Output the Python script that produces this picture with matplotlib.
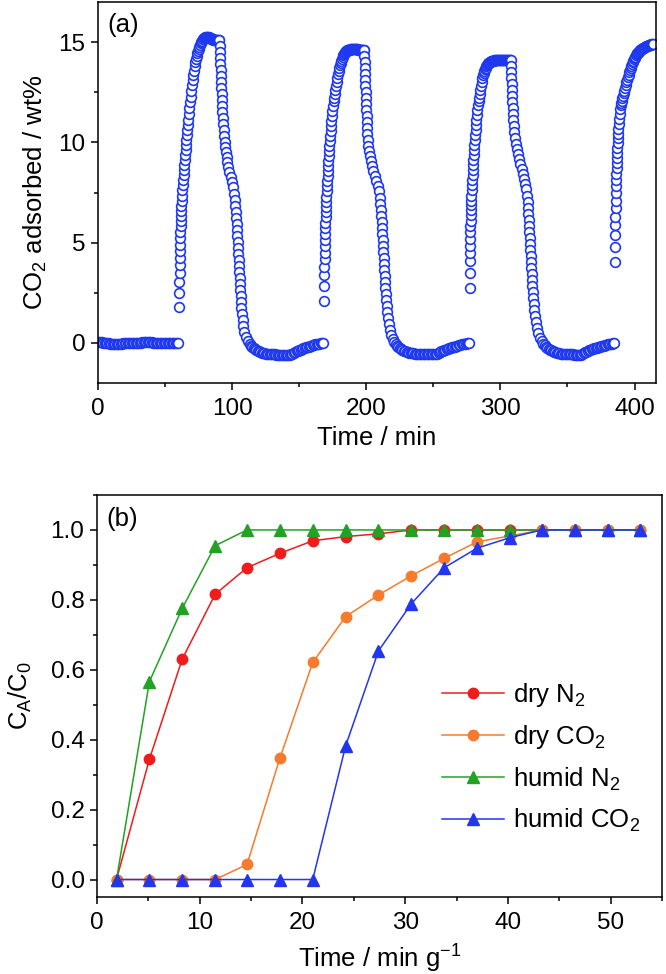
import numpy as np
import matplotlib
matplotlib.use("Agg")
import matplotlib.pyplot as plt
from matplotlib.ticker import MultipleLocator

plt.rcParams['font.family'] = ['Liberation Sans', 'DejaVu Sans']
plt.rcParams['mathtext.fontset'] = 'custom'
plt.rcParams['mathtext.rm'] = 'Liberation Sans'
plt.rcParams['mathtext.it'] = 'Liberation Sans:italic'
plt.rcParams['mathtext.default'] = 'regular'

###############################################################################
# DATA - (a) CO2 uptake cycles
# explicit (time [min], wt%) pairs for the fast parts,
# evenly logged readings (start, step, values) for the slow parts
###############################################################################

def logged(t0, dt, vals):
    return [(t0 + i * dt, v) for i, v in enumerate(vals)]

baseline_v = [0.05, 0.04, 0.03, 0.02, 0.01, 0.0, -0.01, -0.02, -0.03, -0.04, -0.04,
              -0.05, -0.05, -0.05, -0.05, -0.05, -0.05, -0.04, -0.04, -0.03, -0.03,
              -0.02, -0.02, -0.01, -0.01, 0.0, 0.0, 0.0, 0.0, 0.01, 0.01, 0.01, 0.01,
              0.02, 0.02, 0.02, 0.02, 0.02, 0.02, 0.02, 0.02, 0.01, 0.01, 0.01, 0.01,
              0.0, 0.0, 0.0, 0.0, 0.0, 0.0, 0.0, 0.0, 0.0, 0.0, 0.0, 0.0, 0.0, 0.0,
              0.0, 0.0]

# cycle 1
c1_rise = [(60.5, 1.8), (60.6, 2.5), (60.7, 3.05), (60.8, 3.5), (60.9, 3.9), (61.0, 4.25),
           (61.1, 4.6), (61.2, 4.9), (61.3, 5.25), (61.45, 5.55), (61.6, 5.85), (61.75, 6.1),
           (61.9, 6.35), (62.05, 6.6), (62.2, 6.85), (62.4, 7.1), (62.65, 7.35), (62.9, 7.6),
           (63.2, 7.85), (63.5, 8.1), (63.8, 8.35), (64.1, 8.6), (64.4, 8.85), (64.7, 9.1),
           (65.0, 9.35), (65.3, 9.6), (65.6, 9.85), (65.9, 10.1), (66.2, 10.35), (66.5, 10.6),
           (66.9, 10.85), (67.3, 11.1), (67.7, 11.4), (68.1, 11.7), (68.6, 12.0)]
c1_top_v = [12.25, 12.55, 12.85, 13.1, 13.35, 13.57, 13.8, 14.0, 14.15, 14.3, 14.45, 14.57,
            14.68, 14.78, 14.87, 14.95, 15.02, 15.08, 15.13, 15.17, 15.2, 15.22, 15.24,
            15.25, 15.25, 15.25, 15.25, 15.24, 15.22, 15.2, 15.18, 15.16, 15.15, 15.13,
            15.12, 15.11, 15.1, 15.1, 15.1, 15.1, 15.1, 15.1, 15.1]
c1_fall = [(90.4, 15.1), (90.6, 14.8), (90.8, 14.5), (91.0, 14.2), (91.2, 13.9), (91.4, 13.6),
           (91.6, 13.3), (91.8, 13.0), (92.0, 12.7), (92.2, 12.4), (92.4, 12.1), (92.6, 11.8),
           (92.8, 11.5), (93.1, 11.2), (93.4, 10.9), (93.7, 10.6), (94.0, 10.3), (94.4, 10.0),
           (94.8, 9.75), (95.3, 9.5), (95.9, 9.25), (96.5, 9.0), (97.2, 8.75), (98.0, 8.5),
           (99.0, 8.25), (100.0, 8.0), (100.8, 7.75), (101.5, 7.45), (102.0, 7.15),
           (102.4, 6.85), (102.7, 6.55), (103.0, 6.25), (103.3, 5.95), (103.5, 5.65),
           (103.75, 5.35), (104.0, 5.05), (104.25, 4.75), (104.5, 4.45), (104.75, 4.15),
           (105.0, 3.85), (105.25, 3.55), (105.5, 3.25), (105.75, 2.95), (106.0, 2.65),
           (106.3, 2.35), (106.6, 2.05), (106.9, 1.75), (107.3, 1.45), (107.8, 1.15),
           (108.4, 0.85), (109.2, 0.55), (110.2, 0.3), (111.5, 0.1)]
c1_low_v = [-0.05, -0.13, -0.2, -0.26, -0.31, -0.35, -0.39, -0.42, -0.45, -0.48, -0.5,
            -0.52, -0.53, -0.54, -0.55, -0.56, -0.56, -0.57, -0.57, -0.57, -0.58, -0.58,
            -0.58, -0.58, -0.58, -0.59, -0.59, -0.59, -0.59, -0.6, -0.6, -0.57, -0.53,
            -0.49, -0.45, -0.42, -0.39, -0.36, -0.33, -0.3, -0.27, -0.25, -0.22, -0.2,
            -0.18, -0.16, -0.14, -0.12, -0.1, -0.08, -0.07, -0.05, -0.04, -0.02, -0.01]

# cycle 2
c2_rise = [(168.5, 2.07), (168.6, 2.85), (168.7, 3.4), (168.8, 3.8), (168.9, 4.2),
           (169.0, 4.5), (169.1, 4.85), (169.2, 5.15), (169.3, 5.45), (169.4, 5.75),
           (169.5, 6.0), (169.65, 6.3), (169.8, 6.55), (169.95, 6.8), (170.1, 7.05),
           (170.3, 7.3), (170.5, 7.55), (170.7, 7.8), (170.9, 8.05), (171.1, 8.3),
           (171.3, 8.55), (171.5, 8.8), (171.7, 9.05), (171.95, 9.3), (172.2, 9.55),
           (172.5, 9.8), (172.8, 10.05), (173.1, 10.3), (173.4, 10.55), (173.7, 10.8),
           (174.0, 11.05), (174.4, 11.3), (174.8, 11.55), (175.2, 11.8), (175.7, 12.05)]
c2_top_v = [12.2, 12.4, 12.6, 12.8, 13.0, 13.2, 13.4, 13.55, 13.7, 13.85, 13.97, 14.08,
            14.18, 14.27, 14.35, 14.41, 14.46, 14.5, 14.54, 14.57, 14.59, 14.61, 14.62,
            14.63, 14.64, 14.65, 14.65, 14.65, 14.65, 14.65, 14.65, 14.65, 14.65, 14.65,
            14.65, 14.64, 14.63, 14.62, 14.62, 14.61, 14.6, 14.6, 14.6, 14.6, 14.6]
c2_fall = [(198.5, 14.6), (198.65, 14.3), (198.8, 14.0), (198.95, 13.7), (199.1, 13.4),
           (199.25, 13.1), (199.4, 12.8), (199.55, 12.5), (199.7, 12.2), (199.85, 11.9),
           (200.0, 11.6), (200.2, 11.3), (200.4, 11.0), (200.65, 10.7), (200.9, 10.4),
           (201.2, 10.1), (201.6, 9.8), (202.1, 9.55), (202.7, 9.3), (203.4, 9.05),
           (204.3, 8.8), (205.3, 8.55), (206.4, 8.3), (207.5, 8.05), (208.5, 7.8),
           (209.3, 7.55), (209.9, 7.25), (210.4, 6.95), (210.8, 6.65), (211.1, 6.35),
           (211.4, 6.05), (211.7, 5.75), (211.95, 5.45), (212.2, 5.15), (212.45, 4.85),
           (212.7, 4.55), (212.95, 4.25), (213.2, 3.95), (213.45, 3.65), (213.7, 3.35),
           (213.95, 3.05), (214.2, 2.75), (214.5, 2.45), (214.8, 2.15), (215.1, 1.85),
           (215.5, 1.55), (216.0, 1.25), (216.6, 0.95), (217.4, 0.65), (218.4, 0.4),
           (219.6, 0.2), (221.0, 0.03)]
c2_low_v = [-0.08, -0.15, -0.2, -0.25, -0.3, -0.34, -0.38, -0.41, -0.44, -0.46, -0.48,
            -0.5, -0.51, -0.52, -0.53, -0.54, -0.54, -0.55, -0.55, -0.56, -0.56, -0.56,
            -0.56, -0.57, -0.57, -0.57, -0.57, -0.57, -0.57, -0.57, -0.57, -0.54, -0.5,
            -0.46, -0.42, -0.39, -0.36, -0.33, -0.31, -0.28, -0.26, -0.24, -0.22, -0.2,
            -0.18, -0.16, -0.14, -0.12, -0.1, -0.08, -0.07, -0.05, -0.04, -0.02, -0.01]

# cycle 3
c3_rise = [(277.0, 2.73), (277.1, 3.5), (277.2, 4.07), (277.3, 4.48), (277.4, 4.85),
           (277.5, 5.18), (277.6, 5.52), (277.7, 5.82), (277.8, 6.1), (277.9, 6.37),
           (278.0, 6.63), (278.1, 6.88), (278.25, 7.1), (278.4, 7.35), (278.6, 7.6),
           (278.8, 7.85), (279.0, 8.1), (279.2, 8.35), (279.4, 8.6), (279.65, 8.85),
           (279.9, 9.1), (280.15, 9.35), (280.4, 9.6), (280.65, 9.85), (280.9, 10.1),
           (281.2, 10.35), (281.5, 10.6), (281.8, 10.85), (282.1, 11.1), (282.5, 11.35),
           (282.9, 11.6), (283.3, 11.85), (283.7, 12.05)]
c3_top_v = [12.2, 12.4, 12.62, 12.83, 13.03, 13.2, 13.35, 13.47, 13.57, 13.66, 13.73,
            13.79, 13.85, 13.9, 13.94, 13.97, 14.0, 14.02, 14.04, 14.05, 14.06, 14.07,
            14.08, 14.09, 14.1, 14.1, 14.1, 14.1, 14.1, 14.1, 14.1, 14.1, 14.1, 14.1,
            14.1, 14.1, 14.1, 14.1, 14.1, 14.1, 14.1, 14.1, 14.1, 14.1, 14.1, 14.1,
            14.1, 14.1]
c3_fall = [(307.7, 14.1), (307.85, 13.8), (308.0, 13.5), (308.15, 13.2), (308.3, 12.9),
           (308.5, 12.6), (308.7, 12.3), (308.9, 12.0), (309.1, 11.7), (309.35, 11.4),
           (309.6, 11.1), (309.9, 10.8), (310.3, 10.5), (310.8, 10.2), (311.4, 9.9),
           (312.1, 9.65), (312.9, 9.4), (313.8, 9.15), (314.8, 8.9), (315.8, 8.65),
           (316.8, 8.4), (317.8, 8.15), (318.7, 7.9), (319.4, 7.65), (319.9, 7.35),
           (320.3, 7.05), (320.6, 6.75), (320.85, 6.45), (321.1, 6.15), (321.35, 5.85),
           (321.6, 5.55), (321.85, 5.25), (322.1, 4.95), (322.35, 4.65), (322.6, 4.35),
           (322.85, 4.05), (323.1, 3.75), (323.35, 3.45), (323.6, 3.15), (323.85, 2.85),
           (324.1, 2.55), (324.4, 2.25), (324.7, 1.95), (325.1, 1.65), (325.6, 1.35),
           (326.2, 1.05), (327.0, 0.75), (328.0, 0.48), (329.3, 0.25), (330.8, 0.07)]
c3_low_v = [-0.05, -0.12, -0.18, -0.24, -0.29, -0.33, -0.37, -0.41, -0.44, -0.46, -0.48,
            -0.5, -0.52, -0.53, -0.54, -0.55, -0.55, -0.56, -0.56, -0.57, -0.57, -0.57,
            -0.57, -0.58, -0.58, -0.58, -0.58, -0.58, -0.58, -0.55, -0.51, -0.47, -0.43,
            -0.4, -0.37, -0.34, -0.32, -0.29, -0.27, -0.25, -0.23, -0.21, -0.19, -0.17,
            -0.15, -0.13, -0.12, -0.1, -0.08, -0.07, -0.05, -0.04, -0.02, 0.0]

# cycle 4 (adsorption only)
c4_rise = [(385.4, 4.05), (385.5, 4.8), (385.6, 5.38), (385.7, 5.88), (385.8, 6.3),
           (385.9, 6.72), (386.0, 7.1), (386.1, 7.47), (386.2, 7.8), (386.3, 8.12),
           (386.45, 8.42), (386.6, 8.7), (386.75, 8.97), (386.9, 9.23), (387.05, 9.48),
           (387.2, 9.72), (387.4, 9.96), (387.6, 10.2), (387.8, 10.44), (388.0, 10.68),
           (388.3, 10.92), (388.6, 11.16), (388.9, 11.4), (389.3, 11.64), (389.7, 11.88)]
c4_top_v = [11.95, 12.08, 12.2, 12.32, 12.45, 12.58, 12.72, 12.86, 13.0, 13.13, 13.26,
            13.38, 13.5, 13.62, 13.73, 13.83, 13.92, 14.0, 14.08, 14.15, 14.22, 14.28,
            14.34, 14.39, 14.44, 14.48, 14.52, 14.56, 14.59, 14.62, 14.65, 14.67, 14.69,
            14.71, 14.73, 14.75, 14.77, 14.79, 14.8, 14.82, 14.83, 14.85, 14.86, 14.87,
            14.88, 14.89, 14.9, 14.9, 14.91]

trace = (logged(0, 1, baseline_v)
         + c1_rise + logged(69.0, 0.5, c1_top_v) + c1_fall + logged(113, 1, c1_low_v) + [(167.8, 0.0)]
         + c2_rise + logged(176.0, 0.5, c2_top_v) + c2_fall + logged(222, 1, c2_low_v) + [(276.6, 0.0)]
         + c3_rise + logged(284.0, 0.5, c3_top_v) + c3_fall + logged(332, 1, c3_low_v)
         + c4_rise + logged(390.0, 0.5, c4_top_v))

###############################################################################
# DATA - (b) breakthrough curves
###############################################################################

t_b = [1.9, 5.1, 8.3, 11.5, 14.6, 17.8, 21.0, 24.2, 27.4, 30.6, 33.8, 37.0, 40.2,
       43.3, 46.5, 49.7, 52.9]
dry_n2 = [0.0, 0.344, 0.631, 0.816, 0.892, 0.933, 0.969, 0.981, 0.989, 1.0, 1.0,
          1.0, 1.0, 1.0, 1.0, 1.0, 1.0]
dry_co2 = [0.0, 0.0, 0.0, 0.0, 0.043, 0.347, 0.621, 0.752, 0.814, 0.869, 0.919,
           0.966, 0.983, 1.0, 1.0, 1.0, 1.0]
humid_n2 = [0.0, 0.566, 0.776, 0.955, 1.0, 1.0, 1.0, 1.0, 1.0, 1.0, 1.0, 1.0, 1.0,
            1.0, 1.0, 1.0, 1.0]
humid_co2 = [0.0, 0.0, 0.0, 0.0, 0.0, 0.0, 0.0, 0.382, 0.654, 0.789, 0.892, 0.948,
             0.978, 1.0, 1.0, 1.0, 1.0]

###############################################################################
# FIGURE
###############################################################################

fs_tick = 17.5
fs_lab = 18.5
fig = plt.figure(figsize=(6.66, 9.74), dpi=100)
ax1 = fig.add_axes([98/666, 1-383/974, 558/666, 381/974])
ax2 = fig.add_axes([97/666, 1-897/974, 565/666, 402/974])

def style(ax):
    for s in ax.spines.values():
        s.set_linewidth(1.1)
    ax.tick_params(which='both', direction='out', top=False, right=False,
                   labelsize=fs_tick, width=1.1)
    ax.tick_params(which='major', length=5)
    ax.tick_params(which='minor', length=3)
    ax.tick_params(axis='x', which='major', pad=6)
    ax.tick_params(axis='y', which='major', pad=4)

#######################################
# (a)
#######################################

data_a = np.array(trace)
ax1.plot(data_a[:, 0], data_a[:, 1], ls='none', marker='o', ms=7,
         mfc='white', mec='#1e38f0', mew=1.2)
ax1.set_xlim(0, 416)
ax1.set_ylim(-2, 17)
ax1.xaxis.set_major_locator(MultipleLocator(100))
ax1.xaxis.set_minor_locator(MultipleLocator(50))
ax1.yaxis.set_major_locator(MultipleLocator(5))
ax1.yaxis.set_minor_locator(MultipleLocator(2.5))
style(ax1)
ax1.set_xlabel('Time / min', fontsize=fs_lab, labelpad=4)
ax1.set_ylabel('CO$_2$ adsorbed / wt%', fontsize=fs_lab, labelpad=7)
ax1.text(0.016, 0.97, '(a)', transform=ax1.transAxes, fontsize=fs_lab, va='top')

#######################################
# (b)
#######################################

ax2.plot(t_b, dry_n2, '-o', color='#f01c1c', lw=1.1, ms=7.5, label='dry N$_2$')
ax2.plot(t_b, dry_co2, '-o', color='#f87a2c', lw=1.1, ms=7.5, label='dry CO$_2$')
ax2.plot(t_b, humid_n2, '-^', color='#22a222', lw=1.1, ms=8, label='humid N$_2$')
ax2.plot(t_b, humid_co2, '-^', color='#2236f0', lw=1.1, ms=8, label='humid CO$_2$')
ax2.set_xlim(0, 55)
ax2.set_ylim(-0.05, 1.1)
ax2.xaxis.set_major_locator(MultipleLocator(10))
ax2.xaxis.set_minor_locator(MultipleLocator(5))
ax2.yaxis.set_major_locator(MultipleLocator(0.2))
ax2.yaxis.set_minor_locator(MultipleLocator(0.1))
ax2.yaxis.set_major_formatter(plt.FormatStrFormatter('%.1f'))
style(ax2)
ax2.set_xlabel('Time / min g$^{-1}$', fontsize=fs_lab, labelpad=6)
ax2.set_ylabel('C$_A$/C$_0$', fontsize=fs_lab, labelpad=12)
ax2.text(0.016, 0.97, '(b)', transform=ax2.transAxes, fontsize=fs_lab, va='top')
ax2.legend(loc='center left', bbox_to_anchor=(0.611, 0.347), frameon=False,
           fontsize=fs_lab, handlelength=2.4, handletextpad=0.35, labelspacing=0.55,
           borderpad=0, borderaxespad=0)

plt.savefig('out.png', dpi=100)
